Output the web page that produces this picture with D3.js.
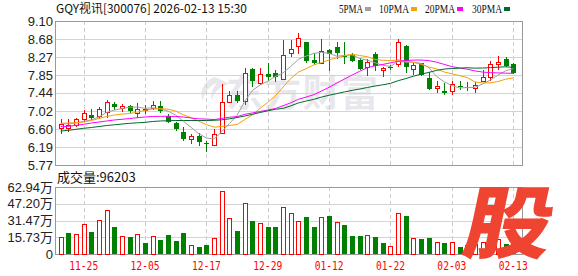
<!DOCTYPE html>
<html>
<head>
<meta charset="utf-8">
<script src="https://cdn.jsdelivr.net/npm/d3@7"></script>
<style>
body{margin:0;background:#fff;}
svg{display:block;font-family:"Liberation Sans",Arial,sans-serif;}
</style>
</head>
<body>
<svg id="chart" width="578" height="276"></svg>
<script>
// 日期
var dates=["11-20","11-21","11-24","11-25","11-26","11-27","11-28","12-01","12-02","12-03","12-04","12-05",
  "12-08","12-09","12-10","12-11","12-12","12-15","12-16","12-17","12-18","12-19","12-22","12-23","12-24","12-25","12-26",
  "12-29","12-30","12-31","01-05","01-06","01-07","01-08","01-09","01-12","01-13","01-14","01-15","01-16",
  "01-19","01-20","01-21","01-22","01-23","01-26","01-27","01-28","01-29","01-30","02-02","02-03",
  "02-04","02-05","02-06","02-09","02-10","02-11","02-12","02-13"];
var openP=[6.63,6.62,6.69,6.83,6.92,6.90,7.00,7.18,7.09,7.13,6.97,7.04,7.08,7.13,6.90,6.73,6.53,6.37,6.44,6.28,
  6.23,6.50,7.23,7.39,7.26,7.98,7.67,7.87,7.90,7.75,8.35,8.52,8.61,8.20,8.14,8.43,8.51,8.30,8.31,8.20,
  8.04,8.33,7.97,8.03,8.10,8.52,8.00,8.12,7.78,7.54,7.48,7.49,7.60,7.58,7.54,7.72,7.81,8.10,8.21,8.10];
var highP=[6.83,6.83,6.86,7.04,7.06,7.10,7.27,7.23,7.17,7.16,7.20,7.15,7.25,7.25,6.95,6.77,6.64,6.49,6.50,6.32,
  6.61,7.64,7.47,7.47,8.02,8.01,8.02,8.14,7.97,8.66,8.66,8.82,8.62,8.35,8.68,8.45,8.62,8.62,8.35,8.25,
  8.21,8.38,8.04,8.08,8.68,8.55,8.12,8.14,7.93,7.72,7.66,7.71,7.71,7.69,7.70,7.97,8.18,8.29,8.26,8.12];
var lowP=[6.48,6.54,6.66,6.77,6.81,6.83,6.86,7.04,7.00,6.97,6.86,6.96,7.04,6.98,6.73,6.56,6.33,6.26,6.21,6.06,
  6.21,6.49,7.21,7.20,7.16,7.58,7.62,7.71,7.70,7.74,8.26,8.33,8.14,8.08,8.10,7.95,8.21,8.10,8.16,7.97,
  7.83,7.95,7.80,7.97,8.04,7.89,7.85,7.83,7.50,7.43,7.39,7.39,7.50,7.49,7.44,7.71,7.71,7.97,8.04,7.87];
var closeP=[6.71,6.70,6.83,6.97,6.86,7.06,7.23,7.10,7.13,7.03,7.07,7.06,7.16,7.02,6.76,6.60,6.38,6.44,6.30,6.25,
  6.49,7.22,7.39,7.25,7.89,7.71,7.87,7.81,7.80,8.31,8.45,8.70,8.18,8.12,8.41,8.34,8.36,8.28,8.18,7.99,
  8.16,8.06,8.01,8.02,8.61,8.04,8.08,7.85,7.53,7.59,7.43,7.64,7.58,7.57,7.62,7.80,8.10,8.15,8.07,7.89];
// 成交量(万手)
var volume=[15.7,19.7,18.5,27.9,20.7,31.6,41.0,25.4,16.6,16.0,18.5,10.3,16.6,13.2,17.8,12.2,19.7,8.1,6.6,8.5,
  14.7,58.9,33.5,21.6,47.6,31.0,28.8,25.4,25.4,43.9,38.5,31.0,34.8,25.4,34.8,35.7,30.1,27.2,16.9,16.9,
  17.6,16.0,10.3,7.2,38.2,35.7,14.7,13.8,15.0,11.0,10.3,11.0,6.6,8.0,9.0,11.0,17.0,14.0,9.4,9.62];
var ma5=[6.73,6.72,6.74,6.78,6.813,6.882,6.988,7.041,7.074,7.108,7.109,7.08,7.092,7.069,7.016,6.922,6.781,6.638,6.495,6.393,
  6.371,6.540,6.729,6.919,7.247,7.493,7.622,7.707,7.819,7.902,8.049,8.215,8.289,8.351,8.373,8.354,8.285,8.304,8.316,8.232,
  8.193,8.134,8.079,8.047,8.170,8.147,8.150,8.119,8.021,7.818,7.695,7.607,7.552,7.561,7.567,7.641,7.733,7.848,7.947,8.001];
var ma10=[6.734,6.741,6.748,6.764,6.799,6.845,6.892,6.926,6.949,6.960,6.996,7.034,7.067,7.072,7.062,7.016,6.931,6.865,6.782,6.704,
  6.647,6.661,6.684,6.707,6.820,6.932,7.081,7.218,7.369,7.575,7.771,7.919,7.998,8.085,8.137,8.201,8.250,8.297,8.334,8.302,
  8.273,8.209,8.192,8.182,8.201,8.170,8.142,8.099,8.034,7.994,7.921,7.879,7.836,7.791,7.692,7.668,7.670,7.700,7.754,7.784];
var ma20=[6.656,6.665,6.688,6.711,6.741,6.764,6.788,6.811,6.827,6.845,6.864,6.880,6.892,6.896,6.896,6.892,6.880,6.857,6.838,6.832,
  6.821,6.847,6.875,6.889,6.941,6.974,7.006,7.042,7.076,7.140,7.209,7.290,7.341,7.396,7.479,7.567,7.665,7.757,7.851,7.938,
  8.022,8.064,8.095,8.133,8.169,8.186,8.196,8.198,8.184,8.148,8.097,8.044,8.014,7.986,7.947,7.919,7.906,7.900,7.894,7.889];
var ma30=[6.556,6.572,6.596,6.619,6.637,6.660,6.683,6.700,6.718,6.734,6.746,6.757,6.776,6.788,6.794,6.799,6.799,6.799,6.799,6.799,
  6.804,6.815,6.838,6.868,6.903,6.942,6.984,7.023,7.058,7.080,7.138,7.205,7.249,7.288,7.340,7.383,7.421,7.460,7.495,7.527,
  7.564,7.596,7.625,7.658,7.720,7.768,7.824,7.871,7.912,7.957,7.988,8.002,8.009,8.019,8.010,8.013,8.021,8.032,8.041,8.027];
var priceTicks=["9.10","8.68","8.27","7.85","7.44","7.02","6.60","6.19","5.77"];
var volTicks=["62.94万","47.20万","31.47万","15.73万","0"];
var volTickValues=[62.94,47.20,31.47,15.73,0];
var dateTicks=["11-25","12-05","12-17","12-29","01-12","01-22","02-03","02-13"];
var maNames=["5PMA","10PMA","20PMA","30PMA"];
var maColors=["#a0a0a0","#f4a10a","#ff00ff","#006a2c"];

var svg=d3.select("#chart");
var L=55.5,R=522.5,T=21,B=165,VT=187,VB=254;
var RED="#ff0000",GREEN="#008000";

var x=d3.scalePoint().domain(dates).range([60.7,513.2]);
var y=d3.scaleLinear().domain([5.77,9.10]).range([B,T]);
var yv=d3.scaleLinear().domain([0,62.94]).range([VB,VT]);

// 水印
var wm=svg.append("g").attr("fill","#e8e8ec");
wm.append("path").attr("d","M214,77 C203,82 199,92 203,101 C204,93 209,86 217,83 C212,89 210,95 212,100 C214,92 220,86 229,84 C222,80 218,78 214,77 Z");
wm.append("text").attr("x",226).attr("y",107).attr("font-size",37).attr("font-weight","bold")
  .attr("font-family","'Noto Sans CJK SC',sans-serif").attr("textLength",152).text("东方财富");

// 网格
function grid(top,bottom,vals,scale){
  var g=svg.append("g").attr("shape-rendering","crispEdges");
  g.selectAll("line.h").data(vals).enter().append("line")
    .attr("x1",L).attr("x2",R)
    .attr("y1",function(d){return Math.round(scale(d))+0.5;})
    .attr("y2",function(d){return Math.round(scale(d))+0.5;})
    .attr("stroke","#d4d4d4");
  g.selectAll("line.v").data(dateTicks).enter().append("line")
    .attr("x1",function(d){return Math.round(x(d))+0.5;})
    .attr("x2",function(d){return Math.round(x(d))+0.5;})
    .attr("y1",top).attr("y2",bottom)
    .attr("stroke","#cccccc").attr("stroke-dasharray","4,3");
  g.append("rect").attr("x",L).attr("y",top+0.5).attr("width",R-L).attr("height",bottom-top)
    .attr("fill","none").attr("stroke","#999");
}
grid(T,B,priceTicks.map(Number),y);
grid(VT,VB,volTickValues,yv);

// 坐标轴标签
svg.append("g").selectAll("text").data(priceTicks).enter().append("text")
  .attr("x",53).attr("y",function(d){return y(+d);}).attr("dy","0.36em")
  .attr("text-anchor","end").attr("font-size",13).attr("fill","#222").text(function(d){return d;});
svg.append("g").selectAll("text").data(volTicks).enter().append("text")
  .attr("x",53).attr("y",function(d,i){return yv(volTickValues[i]);}).attr("dy","0.36em")
  .attr("text-anchor","end").attr("font-size",13).attr("fill","#222")
  .attr("font-family","'Liberation Sans','Noto Sans CJK SC',sans-serif").text(function(d){return d;});
svg.append("g").selectAll("text").data(dateTicks).enter().append("text")
  .attr("x",function(d){return x(d);}).attr("y",270).attr("text-anchor","middle")
  .attr("font-size",12).attr("fill",RED).attr("font-family","'DejaVu Sans Mono',monospace")
  .attr("textLength",29).attr("lengthAdjust","spacingAndGlyphs").text(function(d){return d;});

// 标题 & 图例
svg.append("text").attr("x",56).attr("y",13).attr("font-size",12).attr("fill","#111")
  .attr("font-family","'Noto Sans CJK SC',monospace").attr("textLength",191).attr("lengthAdjust","spacingAndGlyphs")
  .text("GQY视讯[300076] 2026-02-13 15:30");
var legX=[339,379,425,472],legW=[24,30,30,30];
var leg=svg.append("g").selectAll("g").data(maNames).enter().append("g");
leg.append("text").attr("x",function(d,i){return legX[i];}).attr("y",13).attr("font-size",13).attr("fill","#111")
  .attr("font-family","'Liberation Serif',serif").attr("textLength",function(d,i){return legW[i];})
  .attr("lengthAdjust","spacingAndGlyphs").text(function(d){return d;});
leg.append("rect").attr("x",function(d,i){return legX[i]+legW[i]+2;}).attr("y",7).attr("width",6).attr("height",4)
  .attr("fill",function(d,i){return maColors[i];});

svg.append("text").attr("x",57).attr("y",182).attr("font-size",13).attr("fill","#111")
  .attr("font-family","'Noto Sans CJK SC',sans-serif").text("成交量:96203");

// 涨跌
function isUp(i){
  if(closeP[i]!==openP[i]) return closeP[i]>openP[i];
  return i===0 ? true : closeP[i]>=closeP[i-1];
}
function volUp(i){
  return i===0 ? closeP[0]>=openP[0] : closeP[i]>=closeP[i-1];
}

// K线
var idx=d3.range(dates.length);
var kg=svg.append("g").attr("shape-rendering","crispEdges");
var candle=kg.selectAll("g").data(idx).enter().append("g");
candle.append("line")
  .attr("x1",function(i){return Math.round(x(dates[i]))+0.5;})
  .attr("x2",function(i){return Math.round(x(dates[i]))+0.5;})
  .attr("y1",function(i){return Math.round(y(highP[i]));})
  .attr("y2",function(i){return Math.round(y(lowP[i]));})
  .attr("stroke",function(i){return isUp(i)?RED:GREEN;});
candle.append("rect")
  .attr("x",function(i){var c=Math.round(x(dates[i]));return isUp(i)?c-1.5:c-2;})
  .attr("y",function(i){var t=Math.round(y(Math.max(openP[i],closeP[i])));return isUp(i)?t+0.5:t;})
  .attr("width",function(i){return isUp(i)?4:5;})
  .attr("height",function(i){
    var h=Math.round(y(Math.min(openP[i],closeP[i])))-Math.round(y(Math.max(openP[i],closeP[i])));
    return isUp(i)?Math.max(h,0):Math.max(h,1);})
  .attr("fill",function(i){return isUp(i)?"#fff":GREEN;})
  .attr("stroke",function(i){return isUp(i)?RED:"none";});

// 均线
var mas=[ma5,ma10,ma20,ma30];
var line=d3.line().x(function(d,i){return x(dates[i]);}).y(function(d){return y(d);});
svg.append("g").selectAll("path").data(mas).enter().append("path")
  .attr("d",line).attr("fill","none").attr("stroke-width",1)
  .attr("stroke",function(d,i){return maColors[i];});

// 成交量
var vg=svg.append("g").attr("shape-rendering","crispEdges");
vg.selectAll("rect").data(idx).enter().append("rect")
  .attr("x",function(i){var c=Math.round(x(dates[i]));return volUp(i)?c-1.5:c-2;})
  .attr("y",function(i){var t=Math.round(yv(volume[i]));return volUp(i)?t+0.5:t;})
  .attr("width",function(i){return volUp(i)?4:5;})
  .attr("height",function(i){var t=Math.round(yv(volume[i]));return volUp(i)?VB-t-0.5:VB-t;})
  .attr("fill",function(i){return volUp(i)?"#fff":GREEN;})
  .attr("stroke",function(i){return volUp(i)?RED:"none";});

// 股 标志
svg.append("text").attr("x",0).attr("y",0).attr("text-anchor","middle").attr("dominant-baseline","central")
  .attr("font-size",76).attr("font-weight","900").attr("fill","#ee4431")
  .attr("font-family","'Noto Sans CJK SC',sans-serif")
  .attr("transform","translate(511,217) skewX(-12) scale(1.15,1.04)")
  .text("股");
</script>
</body>
</html>
